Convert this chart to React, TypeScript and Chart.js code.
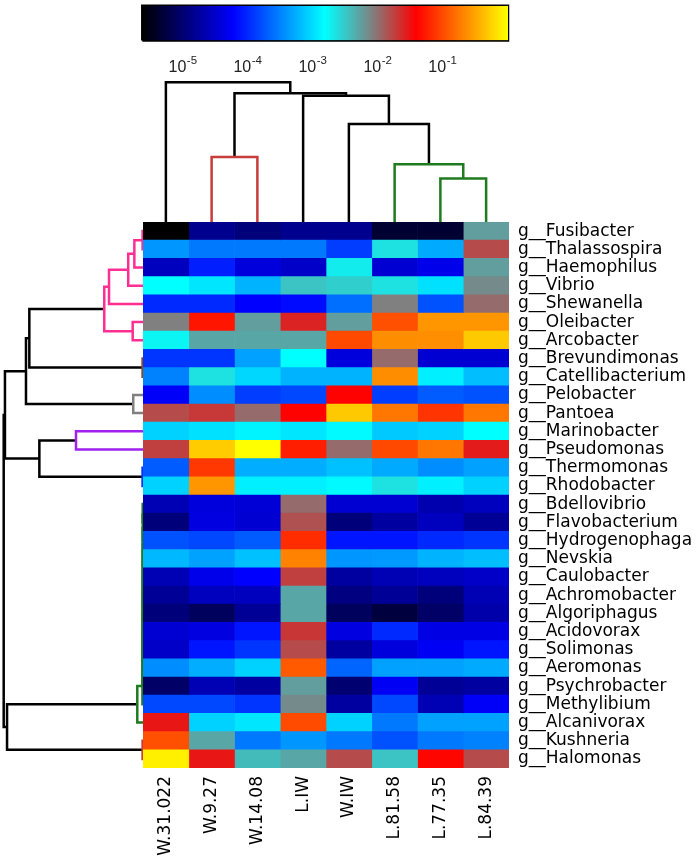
import React, { useEffect, useRef } from "react";
import { Chart, registerables } from "chart.js";
Chart.register(...registerables);

// ---------------- data ----------------
const genera = [
  "g__Fusibacter", "g__Thalassospira", "g__Haemophilus", "g__Vibrio", "g__Shewanella",
  "g__Oleibacter", "g__Arcobacter", "g__Brevundimonas", "g__Catellibacterium", "g__Pelobacter",
  "g__Pantoea", "g__Marinobacter", "g__Pseudomonas", "g__Thermomonas", "g__Rhodobacter",
  "g__Bdellovibrio", "g__Flavobacterium", "g__Hydrogenophaga", "g__Nevskia", "g__Caulobacter",
  "g__Achromobacter", "g__Algoriphagus", "g__Acidovorax", "g__Solimonas", "g__Aeromonas",
  "g__Psychrobacter", "g__Methylibium", "g__Alcanivorax", "g__Kushneria", "g__Halomonas",
];

const samples = ["W.31.022", "W.9.27", "W.14.08", "L.IW", "W.IW", "L.81.58", "L.77.35", "L.84.39"];

// log10 relative abundance per sample (genus order as above)
const W_31_022 = [-5.65, -3.42, -4.6, -2.84, -4.02, -2.11, -2.78, -3.96, -3.53, -4.27, -1.83, -3.09, -1.77, -3.74, -3.09, -4.66, -4.98, -3.8, -3.23, -4.66, -4.82, -4.98, -4.49, -4.55, -3.47, -5.09, -3.85, -1.55, -1.0, -0.11];
const W_9_27 = [-4.86, -3.58, -4.08, -2.98, -4.02, -1.32, -2.33, -3.96, -2.67, -3.47, -1.73, -3.01, -0.31, -1.13, -0.61, -4.44, -4.41, -3.85, -3.35, -4.36, -4.6, -5.14, -4.41, -4.13, -3.29, -4.66, -3.85, -3.09, -2.33, -1.55];
const W_14_08 = [-4.98, -3.58, -4.44, -3.26, -4.25, -2.28, -2.33, -3.36, -3.06, -3.91, -2.0, -2.9, -0.03, -3.29, -2.92, -4.47, -4.49, -3.74, -3.18, -4.25, -4.6, -4.82, -4.13, -3.96, -3.09, -4.77, -3.96, -2.98, -3.58, -2.45];
const L_IW = [-4.86, -3.58, -4.55, -2.5, -4.19, -1.62, -2.33, -2.84, -3.26, -3.85, -1.44, -2.98, -1.27, -3.29, -2.92, -2.0, -1.86, -1.19, -0.72, -1.77, -2.33, -2.33, -1.72, -1.83, -0.94, -2.28, -2.17, -1.02, -3.42, -2.33];
const W_IW = [-4.86, -3.91, -2.73, -2.56, -3.64, -2.28, -1.04, -4.44, -3.26, -1.44, -0.33, -2.87, -2.0, -3.18, -2.87, -4.49, -4.98, -4.13, -3.42, -4.77, -4.94, -5.14, -4.41, -4.77, -3.69, -5.03, -4.77, -3.09, -3.58, -1.83];
const L_81_58 = [-5.37, -2.67, -4.49, -2.67, -2.11, -1.0, -0.66, -2.0, -0.66, -3.91, -0.78, -3.14, -1.04, -3.31, -2.67, -4.49, -4.77, -4.13, -3.4, -4.66, -4.82, -5.31, -4.02, -4.44, -3.36, -4.3, -3.85, -3.58, -3.8, -2.5];
const L_77_35 = [-5.37, -3.31, -4.36, -3.01, -3.8, -0.61, -0.65, -4.49, -2.92, -3.74, -1.15, -3.09, -0.78, -3.47, -2.92, -4.69, -4.6, -4.02, -3.26, -4.6, -4.98, -5.09, -4.39, -4.3, -3.36, -4.82, -4.66, -3.36, -3.58, -1.41];
const L_84_39 = [-2.28, -1.83, -2.28, -2.17, -2.0, -0.61, -0.33, -4.49, -3.2, -3.8, -0.78, -2.84, -1.58, -3.36, -3.09, -4.6, -4.82, -3.96, -3.2, -4.55, -4.66, -4.71, -4.39, -4.13, -3.31, -4.77, -4.27, -3.35, -3.53, -1.83];

const sampleValues = [W_31_022, W_9_27, W_14_08, L_IW, W_IW, L_81_58, L_77_35, L_84_39];

// column dendrogram: [childA, childB, height]; leaves 0..7, merges numbered from 8
const colTree: number[][] = [
  [1, 2, 0.466],
  [6, 7, 0.311],
  [5, 9, 0.414],
  [4, 10, 0.701],
  [3, 11, 0.904],
  [8, 12, 0.921],
  [0, 13, 1.0],
];
const colTreeColors = ["#c83c3c", "#1e7b1e", "#1e7b1e", "#000", "#000", "#000", "#000"];

// row dendrogram: leaves 0..29, merges numbered from 30
const rowTree: number[][] = [
  [0, 1, 0.003],
  [30, 2, 0.062],
  [31, 3, 0.106],
  [32, 4, 0.244],
  [5, 6, 0.074],
  [33, 34, 0.278],
  [7, 8, 0.003],
  [35, 36, 0.816],
  [9, 10, 0.07],
  [37, 38, 0.84],
  [11, 12, 0.481],
  [13, 14, 0.003],
  [40, 41, 0.744],
  [39, 42, 0.991],
  [15, 16, 0.002],
  [44, 17, 0.0022],
  [45, 18, 0.0024],
  [46, 19, 0.0026],
  [47, 20, 0.0028],
  [48, 21, 0.003],
  [49, 22, 0.0032],
  [50, 23, 0.0034],
  [51, 24, 0.0036],
  [52, 25, 0.0038],
  [53, 26, 0.004],
  [54, 27, 0.041],
  [28, 29, 0.003],
  [55, 56, 0.976],
  [43, 57, 1.0],
];
const PINK = "#ff2e93", BROWN = "#8b4a1c", GRAY = "#808080", PURPLE = "#a020f0", BLUE = "#0033ff", GREEN = "#1e7b1e", RED = "#c83c3c", BLACK = "#000";
const rowTreeColors = [
  PINK, PINK, PINK, PINK, PINK, PINK, BROWN, BLACK, GRAY, BLACK, PURPLE, BLUE, BLACK, BLACK,
  GREEN, GREEN, GREEN, GREEN, GREEN, GREEN, GREEN, GREEN, GREEN, GREEN, GREEN, GREEN, RED, BLACK, BLACK,
];

// colour bar
const cbMin = -5.65;
const cbMax = -0.02;
const cbTicks = [-5, -4, -3, -2, -1];

// ---------------- helpers ----------------
const cmapStops: [number, number[]][] = [
  [-5.65, [0, 0, 0]],
  [-4.245, [0, 0, 255]],
  [-2.84, [0, 255, 255]],
  [-2.11, [128, 128, 128]],
  [-1.435, [255, 0, 0]],
  [-0.03, [255, 255, 0]],
];

function colorOf(v: number): string {
  if (v <= cmapStops[0][0]) return `rgb(${cmapStops[0][1].join(",")})`;
  for (let i = 1; i < cmapStops.length; i++) {
    const [v1, c1] = cmapStops[i];
    const [v0, c0] = cmapStops[i - 1];
    if (v <= v1) {
      const t = (v - v0) / (v1 - v0);
      const c = c0.map((a, k) => Math.round(a + (c1[k] - a) * t));
      return `rgb(${c.join(",")})`;
    }
  }
  return `rgb(${cmapStops[cmapStops.length - 1][1].join(",")})`;
}

function buildLinks(tree: number[][], n: number) {
  const pos: number[] = [];
  const ht: number[] = [];
  for (let i = 0; i < n; i++) {
    pos.push(i + 0.5);
    ht.push(0);
  }
  return tree.map(([a, b, h]) => {
    const seg = [
      { p: pos[a], h: ht[a] },
      { p: pos[a], h },
      { p: pos[b], h },
      { p: pos[b], h: ht[b] },
    ];
    pos.push((pos[a] + pos[b]) / 2);
    ht.push(h);
    return seg;
  });
}

const FONT = "'DejaVu Sans', sans-serif";
const CB_FONT = "'Liberation Sans', Arial, sans-serif";

// draws "10" with a raised exponent at each colour-bar tick, positioned by the x scale
const powerLabels = {
  id: "powerLabels",
  afterDraw(chart: any) {
    const xs = chart.scales.x;
    const ctx = chart.ctx;
    const base = chart.chartArea.bottom;
    ctx.save();
    ctx.fillStyle = "#222";
    ctx.textBaseline = "alphabetic";
    ctx.textAlign = "left";
    cbTicks.forEach((t) => {
      const x = xs.getPixelForValue(t);
      const exp = String(t);
      ctx.font = `16px ${CB_FONT}`;
      const w1 = ctx.measureText("10").width;
      ctx.font = `11.5px ${CB_FONT}`;
      const w2 = ctx.measureText(exp).width;
      const start = x - 2 - (w1 + w2) / 2;
      ctx.font = `16px ${CB_FONT}`;
      ctx.fillText("10", start, base + 31.2);
      ctx.font = `11.5px ${CB_FONT}`;
      ctx.fillText(exp, start + w1 + 0.5, base + 23);
    });
    ctx.restore();
  },
};

// ---------------- components ----------------
function useChart(make: (c: HTMLCanvasElement) => Chart) {
  const ref = useRef<HTMLCanvasElement | null>(null);
  useEffect(() => {
    if (!ref.current) return;
    const ch = make(ref.current);
    return () => ch.destroy();
  }, []);
  return ref;
}

function Canvas({ r, left, top, width, height }: any) {
  return (
    <canvas
      ref={r}
      width={width}
      height={height}
      style={{ position: "absolute", left, top, width, height, display: "block" }}
    />
  );
}

function Heatmap() {
  const ref = useChart((c) =>
    new Chart(c, {
      type: "bar",
      data: {
        labels: genera,
        datasets: sampleValues.map((vals, i) => ({
          label: samples[i],
          data: vals.map(() => 1),
          backgroundColor: vals.map(colorOf),
          borderWidth: 0,
          barPercentage: 1,
          categoryPercentage: 1,
          xAxisID: "x",
          yAxisID: "y",
        })),
      },
      options: {
        indexAxis: "y",
        animation: false,
        responsive: false,
        devicePixelRatio: 1,
        layout: { padding: 0 },
        plugins: { legend: { display: false }, tooltip: { enabled: false } },
        scales: {
          x: { type: "linear", stacked: true, min: 0, max: 8, display: false },
          xs: {
            type: "category",
            labels: samples,
            position: "bottom",
            offset: true,
            grid: { display: false, drawTicks: false },
            border: { display: false },
            ticks: {
              autoSkip: false,
              maxRotation: 90,
              minRotation: 90,
              padding: 8,
              color: "#000",
              font: { family: FONT, size: 17 },
            },
            afterFit: (s: any) => {
              s.height = 94;
              s.paddingLeft = 0;
              s.paddingRight = 0;
            },
          },
          y: {
            type: "category",
            position: "right",
            stacked: true,
            grid: { display: false, drawTicks: false },
            border: { display: false },
            ticks: {
              autoSkip: false,
              padding: 9,
              color: "#000",
              font: { family: FONT, size: 17 },
            },
            afterFit: (s: any) => {
              s.width = 191;
              s.paddingTop = 0;
              s.paddingBottom = 0;
            },
          },
        },
      } as any,
    })
  );
  return <Canvas r={ref} left={143} top={222} width={557} height={640} />;
}

function TopTree() {
  const ref = useChart((c) => {
    const links = buildLinks(colTree, samples.length);
    return new Chart(c, {
      type: "scatter",
      data: {
        datasets: links.map((seg, i) => ({
          data: seg.map((q) => ({ x: q.p, y: q.h })),
          showLine: true,
          borderColor: colTreeColors[i],
          borderWidth: 2.5,
          pointRadius: 0,
          clip: false,
          borderJoinStyle: "miter",
        })),
      },
      options: {
        animation: false,
        responsive: false,
        devicePixelRatio: 1,
        layout: { padding: { top: 5.3, left: 0, right: 0, bottom: 0 } },
        plugins: { legend: { display: false }, tooltip: { enabled: false } },
        scales: {
          x: { type: "linear", min: 0, max: 8, display: false },
          y: { type: "linear", min: 0, max: 1.05, display: false },
        },
      } as any,
    });
  });
  return <Canvas r={ref} left={143} top={70} width={366} height={152} />;
}

function LeftTree() {
  const ref = useChart((c) => {
    const links = buildLinks(rowTree, genera.length);
    return new Chart(c, {
      type: "scatter",
      data: {
        datasets: links.map((seg, i) => ({
          data: seg.map((q) => ({ x: q.h, y: q.p })),
          showLine: true,
          borderColor: rowTreeColors[i],
          borderWidth: 2.5,
          pointRadius: 0,
          clip: false,
          borderJoinStyle: "miter",
        })),
      },
      options: {
        animation: false,
        responsive: false,
        devicePixelRatio: 1,
        layout: { padding: { top: 8, bottom: 8, left: 3.7, right: 0 } },
        plugins: { legend: { display: false }, tooltip: { enabled: false } },
        scales: {
          x: { type: "linear", min: 0, max: 1, reverse: true, display: false },
          y: { type: "linear", min: 0, max: genera.length, reverse: true, display: false },
        },
      } as any,
    });
  });
  return <Canvas r={ref} left={0} top={214} width={143} height={562} />;
}

function ColorBar() {
  const ref = useChart((c) =>
    new Chart(c, {
      type: "line",
      data: {
        datasets: [
          {
            data: [
              { x: cbMin, y: 1 },
              { x: cbMax, y: 1 },
            ],
            fill: "origin",
            borderWidth: 0,
            pointRadius: 0,
            backgroundColor: (ctx: any) => {
              const chart = ctx.chart;
              const xs = chart.scales && chart.scales.x;
              if (!chart.chartArea || !xs) return "rgba(0,0,0,0)";
              const x0 = xs.getPixelForValue(cbMin);
              const x1 = xs.getPixelForValue(cbMax);
              const g = chart.ctx.createLinearGradient(x0, 0, x1, 0);
              cmapStops.forEach(([v, rgb]) => {
                const t = Math.min(1, Math.max(0, (v - cbMin) / (cbMax - cbMin)));
                g.addColorStop(t, `rgb(${rgb.join(",")})`);
              });
              return g;
            },
          },
          {
            data: [
              { x: cbMin, y: 0 },
              { x: cbMax, y: 0 },
              { x: cbMax, y: 1 },
              { x: cbMin, y: 1 },
              { x: cbMin, y: 0 },
            ],
            fill: false,
            borderColor: "#000",
            borderWidth: 2.5,
            pointRadius: 0,
            clip: false,
            borderJoinStyle: "miter",
          },
          {
            data: cbTicks.flatMap((t) => [
              { x: t, y: 0.118 },
              { x: t, y: 0.882 },
            ]),
            showLine: false,
            pointStyle: "line",
            pointRotation: 90,
            pointRadius: 4.25,
            pointBorderWidth: 1.6,
            pointBorderColor: "#000",
            borderColor: "#000",
          },
        ],
      },
      options: {
        animation: false,
        responsive: false,
        devicePixelRatio: 1,
        layout: { padding: { left: 12.3, right: 12, top: 4.5, bottom: 0 } },
        plugins: { legend: { display: false }, tooltip: { enabled: false } },
        scales: {
          x: {
            type: "linear",
            min: cbMin,
            max: cbMax,
            grid: { display: false, drawTicks: false },
            border: { display: false },
            afterBuildTicks: (s: any) => {
              s.ticks = cbTicks.map((v) => ({ value: v }));
            },
            ticks: { display: false },
            afterFit: (s: any) => {
              s.height = 44.5;
              s.paddingLeft = 0;
              s.paddingRight = 0;
            },
          },
          y: { type: "linear", min: 0, max: 1, display: false },
        },
      } as any,
      plugins: [powerLabels],
    })
  );
  return <Canvas r={ref} left={130} top={0} width={390} height={85} />;
}

export default function App() {
  return (
    <div
      style={{
        position: "absolute",
        left: 0,
        top: 0,
        width: 700,
        height: 862,
        background: "#fff",
        overflow: "hidden",
      }}
    >
      <ColorBar />
      <TopTree />
      <LeftTree />
      <Heatmap />
    </div>
  );
}
